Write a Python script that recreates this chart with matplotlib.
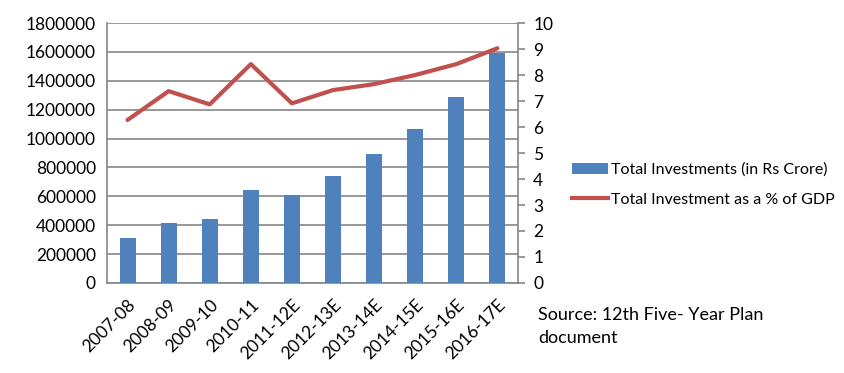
import numpy as np
import matplotlib.pyplot as plt
from matplotlib.patches import Patch
from matplotlib.lines import Line2D
from matplotlib.ticker import FuncFormatter

# 數據：投資總額（Rs Crore）與佔 GDP 百分比
years = ['2007-08', '2008-09', '2009-10', '2010-11', '2011-12E',
         '2012-13E', '2013-14E', '2014-15E', '2015-16E', '2016-17E']
investments = [311000, 415000, 443000, 644000, 609000,
               741000, 893000, 1066000, 1288000, 1592000]
pct_gdp = [6.27, 7.38, 6.87, 8.42, 6.91, 7.42, 7.65, 8.0, 8.42, 9.03]

plt.rcParams['font.family'] = ['Lato', 'DejaVu Sans']

BAR_COLOR = '#4F81BD'
LINE_COLOR = '#C0504D'
GRID_COLOR = '#868686'
FS = 12.5

fig = plt.figure(figsize=(8.45, 3.73), dpi=100)
ax = fig.add_axes([0.1266, 0.2413, 0.4864, 0.697])
x = np.arange(len(years))

ax.bar(x, investments, width=0.39, color=BAR_COLOR, zorder=3)
ax.set_xlim(-0.5, len(years) - 0.5)
ax.set_ylim(0, 1800000)
ax.set_yticks(np.arange(0, 1800001, 200000))
ax.yaxis.set_major_formatter(FuncFormatter(lambda v, p: f'{int(v)}'))
ax.yaxis.grid(True, color=GRID_COLOR, linewidth=1.2, zorder=0)
ax.set_axisbelow(True)
ax.set_xticks(x)
ax.set_xticklabels(years, rotation=45, ha='right', rotation_mode='anchor')
ax.tick_params(axis='y', length=0, labelsize=FS, pad=8)
ax.tick_params(axis='x', length=0, labelsize=FS, pad=10)
for s in ['top', 'right']:
    ax.spines[s].set_visible(False)
for s in ['left', 'bottom']:
    ax.spines[s].set_color(GRID_COLOR)
    ax.spines[s].set_linewidth(1.2)

# 右軸：百分比
ax2 = ax.twinx()
ax2.plot(x, pct_gdp, color=LINE_COLOR, linewidth=3, zorder=4, solid_capstyle='round')
ax2.set_ylim(0, 10)
ax2.set_yticks(range(0, 11))
ax2.tick_params(axis='y', length=5, width=1.2, color=GRID_COLOR, labelsize=FS, pad=6)
for s in ['top', 'left', 'bottom']:
    ax2.spines[s].set_visible(False)
ax2.spines['right'].set_color(GRID_COLOR)
ax2.spines['right'].set_linewidth(1.2)

handles = [Patch(facecolor=BAR_COLOR), Line2D([], [], color=LINE_COLOR, linewidth=3)]
labels = ['Total Investments (in Rs Crore)', 'Total Investment as a % of GDP']
fig.legend(handles, labels, loc='center left', bbox_to_anchor=(0.668, 0.505),
           frameon=False, fontsize=11.5, handlelength=2.2, handletextpad=0.2,
           labelspacing=1.0, borderpad=0)

fig.text(0.637, 0.125, 'Source: 12th Five- Year Plan\ndocument', fontsize=FS + 0.5,
         va='center', ha='left', linespacing=1.5)

fig.savefig('out.png', dpi=100)
